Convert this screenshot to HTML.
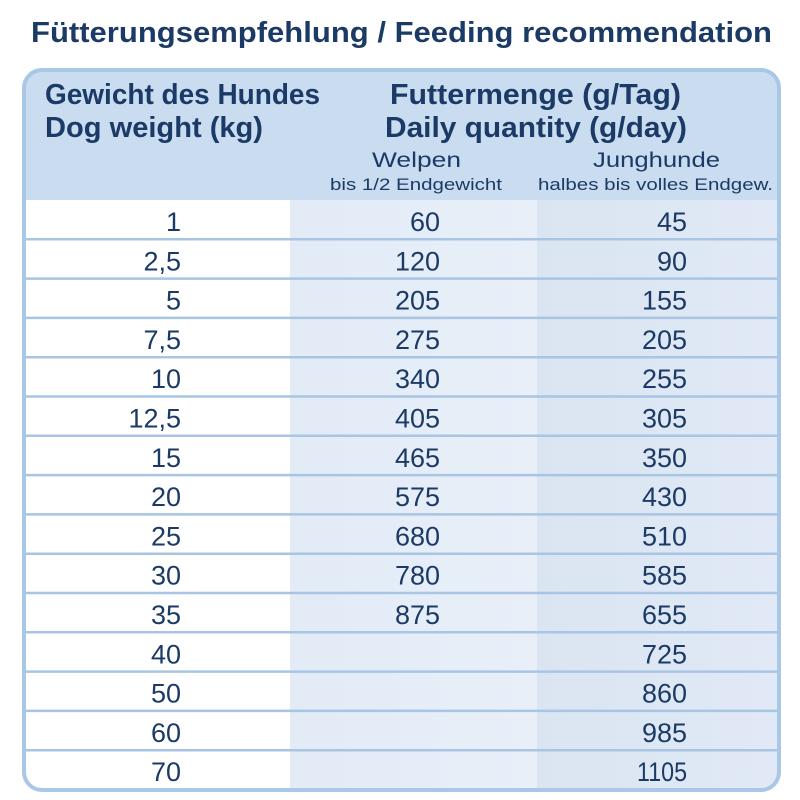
<!DOCTYPE html>
<html>
<head>
<meta charset="utf-8">
<style>
html,body{margin:0;padding:0;background:#fff;}
svg{display:block;}
text{font-family:"Liberation Sans",sans-serif;fill:#1b3a66;}
.b{font-weight:bold;}
.n{font-size:27px;text-anchor:end;}
</style>
</head>
<body>
<svg width="800" height="800" viewBox="0 0 800 800" xmlns="http://www.w3.org/2000/svg">
<defs>
<clipPath id="c"><rect x="24" y="70" width="755" height="720" rx="18" ry="18"/></clipPath>
<linearGradient id="g2" x1="0" x2="1" y1="0" y2="0"><stop offset="0" stop-color="#e2ebf6"/><stop offset="1" stop-color="#e8eff9"/></linearGradient>
<linearGradient id="g3" x1="0" x2="1" y1="0" y2="0"><stop offset="0" stop-color="#dbe5f2"/><stop offset="1" stop-color="#e0e9f5"/></linearGradient>
</defs>
<rect width="800" height="800" fill="#fff"/>
<text class="b" x="31" y="42" font-size="29" textLength="741" lengthAdjust="spacingAndGlyphs">Fütterungsempfehlung / Feeding recommendation</text>
<g clip-path="url(#c)">
<rect x="24" y="70" width="755" height="130" fill="#c9dcf0"/>
<rect x="24" y="200" width="266" height="592" fill="#ffffff"/>
<rect x="290" y="200" width="247" height="592" fill="url(#g2)"/>
<rect x="537" y="200" width="242" height="592" fill="url(#g3)"/>
<g stroke="#a8c5e3" stroke-width="2.5">
<line x1="24" x2="780" y1="239.3" y2="239.3"/>
<line x1="24" x2="780" y1="278.6" y2="278.6"/>
<line x1="24" x2="780" y1="317.9" y2="317.9"/>
<line x1="24" x2="780" y1="357.2" y2="357.2"/>
<line x1="24" x2="780" y1="396.5" y2="396.5"/>
<line x1="24" x2="780" y1="435.8" y2="435.8"/>
<line x1="24" x2="780" y1="475.1" y2="475.1"/>
<line x1="24" x2="780" y1="514.4" y2="514.4"/>
<line x1="24" x2="780" y1="553.7" y2="553.7"/>
<line x1="24" x2="780" y1="593.0" y2="593.0"/>
<line x1="24" x2="780" y1="632.3" y2="632.3"/>
<line x1="24" x2="780" y1="671.6" y2="671.6"/>
<line x1="24" x2="780" y1="710.9" y2="710.9"/>
<line x1="24" x2="780" y1="750.2" y2="750.2"/>
</g>
</g>
<rect x="24" y="70" width="755" height="720" rx="18" ry="18" fill="none" stroke="#a9c7e6" stroke-width="4"/>

<text class="b" x="45" y="104" font-size="29" textLength="275" lengthAdjust="spacingAndGlyphs">Gewicht des Hundes</text>
<text class="b" x="45" y="137" font-size="29" textLength="218" lengthAdjust="spacingAndGlyphs">Dog weight (kg)</text>
<text class="b" x="390" y="104" font-size="29" textLength="291" lengthAdjust="spacingAndGlyphs">Futtermenge (g/Tag)</text>
<text class="b" x="385" y="137" font-size="29" textLength="302" lengthAdjust="spacingAndGlyphs">Daily quantity (g/day)</text>
<text x="372" y="167" font-size="21" textLength="89" lengthAdjust="spacingAndGlyphs">Welpen</text>
<text x="593" y="167" font-size="21" textLength="127" lengthAdjust="spacingAndGlyphs">Junghunde</text>
<text x="330" y="190" font-size="16.5" textLength="172" lengthAdjust="spacingAndGlyphs">bis 1/2 Endgewicht</text>
<text x="538" y="190" font-size="16.5" textLength="235" lengthAdjust="spacingAndGlyphs">halbes bis volles Endgew.</text>

<g class="n">
<text class="n" x="181" y="231">1</text><text class="n" x="440" y="231">60</text><text class="n" x="687" y="231">45</text>
<text class="n" x="181" y="270.3">2,5</text><text class="n" x="440" y="270.3">120</text><text class="n" x="687" y="270.3">90</text>
<text class="n" x="181" y="309.6">5</text><text class="n" x="440" y="309.6">205</text><text class="n" x="687" y="309.6">155</text>
<text class="n" x="181" y="348.9">7,5</text><text class="n" x="440" y="348.9">275</text><text class="n" x="687" y="348.9">205</text>
<text class="n" x="181" y="388.2">10</text><text class="n" x="440" y="388.2">340</text><text class="n" x="687" y="388.2">255</text>
<text class="n" x="181" y="427.5">12,5</text><text class="n" x="440" y="427.5">405</text><text class="n" x="687" y="427.5">305</text>
<text class="n" x="181" y="466.8">15</text><text class="n" x="440" y="466.8">465</text><text class="n" x="687" y="466.8">350</text>
<text class="n" x="181" y="506.1">20</text><text class="n" x="440" y="506.1">575</text><text class="n" x="687" y="506.1">430</text>
<text class="n" x="181" y="545.4">25</text><text class="n" x="440" y="545.4">680</text><text class="n" x="687" y="545.4">510</text>
<text class="n" x="181" y="584.7">30</text><text class="n" x="440" y="584.7">780</text><text class="n" x="687" y="584.7">585</text>
<text class="n" x="181" y="624">35</text><text class="n" x="440" y="624">875</text><text class="n" x="687" y="624">655</text>
<text class="n" x="181" y="663.3">40</text><text class="n" x="687" y="663.3">725</text>
<text class="n" x="181" y="702.6">50</text><text class="n" x="687" y="702.6">860</text>
<text class="n" x="181" y="741.9">60</text><text class="n" x="687" y="741.9">985</text>
<text class="n" x="181" y="781.2">70</text><text class="n" x="687" y="781.2" textLength="50" lengthAdjust="spacingAndGlyphs">1105</text>
</g>
</svg>
</body>
</html>
